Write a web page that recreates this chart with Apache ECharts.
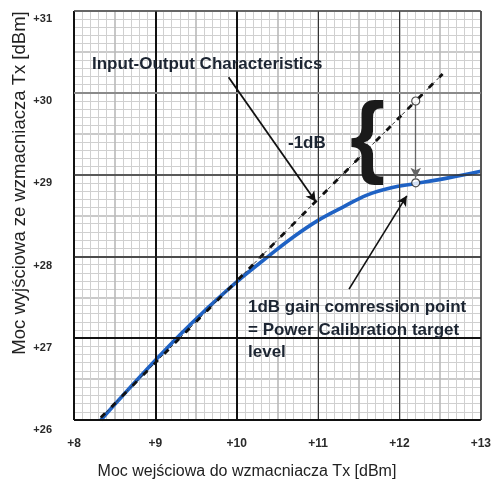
<!DOCTYPE html>
<html>
<head>
<meta charset="utf-8">
<script src="https://cdn.jsdelivr.net/npm/echarts@6/dist/echarts.min.js"></script>
<style>
html,body{margin:0;padding:0;background:#fff;}
#c{width:494px;height:481px;}
</style>
</head>
<body>
<div id="c"></div>
<script>
// ---- data ----
const inputDbm  = [8.33, 8.6, 9.0, 9.3, 9.6, 10.0, 10.4, 10.7, 11.0, 11.3, 11.6, 11.9, 12.2, 12.6, 13.0];
const outputDbm = [26.0, 26.3, 26.73, 27.04, 27.33, 27.69, 28.01, 28.24, 28.44, 28.6, 28.75, 28.84, 28.89, 28.96, 29.04];
const idealX = [8.33, 12.53];
const idealY = [26.03, 30.23];
const compressionX = [12.2, 12.2];
const compressionY = [29.9, 28.9];
const xTicks = [8, 9, 10, 11, 12, 13];
const xTickLabels = ['+8', '+9', '+10', '+11', '+12', '+13'];
const yTicks = [26, 27, 28, 29, 30, 31];
const yTickLabels = ['+26', '+27', '+28', '+29', '+30', '+31'];
const arrow1 = [[9.90, 30.19], [10.97, 28.67]];
const arrow2 = [[11.38, 27.60], [12.09, 28.74]];
const xTitle = 'Moc wejściowa do wzmacniacza Tx [dBm]';
const yTitle = 'Moc wyjściowa ze wzmacniacza Tx [dBm]';
const noteIO = 'Input-Output Characteristics';
const noteDb = '-1dB';
const noteCp = ['1dB gain comression point', '= Power Calibration target', 'level'];

// ---- styles for major grid lines ----
const xMajorStyle = [
  {color:'#111', width:2}, {color:'#111', width:2}, {color:'#111', width:2},
  {color:'#333', width:1}, {color:'#333', width:1}, {color:'#555', width:2}
];
const yMajorStyle = [
  {color:'#111', width:2}, {color:'#111', width:2}, {color:'#222', width:1.6},
  {color:'#333', width:1.5}, {color:'#8a8a8a', width:2}, {color:'#444', width:1.5}
];

const chart = echarts.init(document.getElementById('c'), null, {renderer:'canvas'});

const labelFont = {fontFamily:'Liberation Sans, Arial, sans-serif', fontWeight:'bold', color:'#2a2a2a'};
const noteFont = 'bold 17px "Liberation Sans", Arial, sans-serif';

const gridLines = [];
xTicks.forEach((v,i)=>gridLines.push({xAxis:v, lineStyle:Object.assign({type:'solid'}, xMajorStyle[i])}));
yTicks.forEach((v,i)=>gridLines.push({yAxis:v, lineStyle:Object.assign({type:'solid'}, yMajorStyle[i])}));

const option = {
  backgroundColor:'#fff',
  animation:false,
  grid:[
    {left:74, top:11, width:407, height:409, containLabel:false},
    {left:74, top:19, width:407, height:411, containLabel:false}
  ],
  xAxis:[{
    type:'value', min:8, max:13, interval:0.5, gridIndex:0,
    axisLine:{show:false}, axisTick:{show:false},
    splitLine:{show:true, lineStyle:{color:'#b9b9b9', width:1.6}},
    minorTick:{show:false, splitNumber:5},
    minorSplitLine:{show:true, lineStyle:{color:'#d0d0d0', width:1}},
    axisLabel:Object.assign({
      fontSize:12, margin:18,
      formatter:(v)=>{const i=xTicks.indexOf(v); return i>=0?xTickLabels[i]:'';}
    }, labelFont)
  },{
    type:'value', min:8, max:13, gridIndex:1, show:false
  }],
  yAxis:[{
    type:'value', min:26, max:31, interval:0.5, gridIndex:0,
    axisLine:{show:false}, axisTick:{show:false},
    splitLine:{show:true, lineStyle:{color:'#b9b9b9', width:1.6}},
    minorTick:{show:false, splitNumber:5},
    minorSplitLine:{show:true, lineStyle:{color:'#d0d0d0', width:1}},
    axisLabel:{show:false}
  },{
    type:'value', min:26, max:31, interval:1, gridIndex:1,
    axisLine:{show:false}, axisTick:{show:false}, splitLine:{show:false},
    axisLabel:Object.assign({
      fontSize:11, margin:22,
      formatter:(v)=>{const i=yTicks.indexOf(v); return i>=0?yTickLabels[i]:'';}
    }, labelFont)
  }],
  series:[
    {
      type:'line', data:[], silent:true,
      markLine:{silent:true, symbol:['none','none'], label:{show:false}, data:gridLines, animation:false}
    },
    {
      type:'line', smooth:0.4, showSymbol:false, silent:true,
      data:inputDbm.map((x,i)=>[x, outputDbm[i]]),
      lineStyle:{color:'#1f62c4', width:3.6}, z:3
    },
    {
      type:'line', showSymbol:false, silent:true,
      data:idealX.map((x,i)=>[x, idealY[i]]),
      lineStyle:{color:'#333', width:1, type:[4,3]}, z:4
    },
    {
      type:'line', showSymbol:false, silent:true,
      data:idealX.map((x,i)=>[x, idealY[i]]),
      lineStyle:{color:'#111', width:2.8, type:[6,9]}, z:4
    },
    {
      type:'line', data:[], silent:true, z:5,
      markLine:{
        silent:true, label:{show:false}, animation:false,
        symbol:['none','arrow'], symbolSize:[8,10],
        data:[
          [{coord:[compressionX[0], compressionY[0]], lineStyle:{color:'#666', width:1.3, type:'solid'}},
           {coord:[compressionX[1], compressionY[1]+0.06]}],
          [{coord:arrow1[0], lineStyle:{color:'#111', width:1.8, type:'solid'}}, {coord:arrow1[1]}],
          [{coord:arrow2[0], lineStyle:{color:'#111', width:1.6, type:'solid'}}, {coord:arrow2[1]}]
        ]
      }
    },
    {
      type:'scatter', silent:true, z:6,
      symbol:'circle', symbolSize:8,
      data:compressionX.map((x,i)=>[x, compressionY[i]]),
      itemStyle:{color:'#fff', borderColor:'#222', borderWidth:1.2}
    }
  ],
  graphic:[
    {type:'text', left:92, top:56, z:10, style:{text:noteIO, font:noteFont, fill:'#1c2532'}},
    {type:'text', left:288, top:135, z:10, style:{text:noteDb, font:noteFont, fill:'#1c2532'}},
    {type:'text', left:350, top:96, z:10, style:{text:'{', font:'bold 90px "Liberation Sans", Arial, sans-serif', fill:'#1a1a1a'}},
    {type:'text', left:248, top:299, z:10, style:{text:noteCp[0], font:noteFont, fill:'#1c2532'}},
    {type:'text', left:248, top:322, z:10, style:{text:noteCp[1], font:noteFont, fill:'#1c2532'}},
    {type:'text', left:248, top:344, z:10, style:{text:noteCp[2], font:noteFont, fill:'#1c2532'}},
    {type:'text', x:247, y:472, z:10, style:{text:xTitle, font:'16px "Liberation Sans", Arial, sans-serif', fill:'#222', align:'center', verticalAlign:'middle'}},
    {type:'text', x:20, y:183, rotation:Math.PI/2, z:10, style:{text:yTitle, font:'18.5px "Liberation Sans", Arial, sans-serif', fill:'#222', align:'center', verticalAlign:'middle'}}
  ]
};
chart.setOption(option);
</script>
</body>
</html>
